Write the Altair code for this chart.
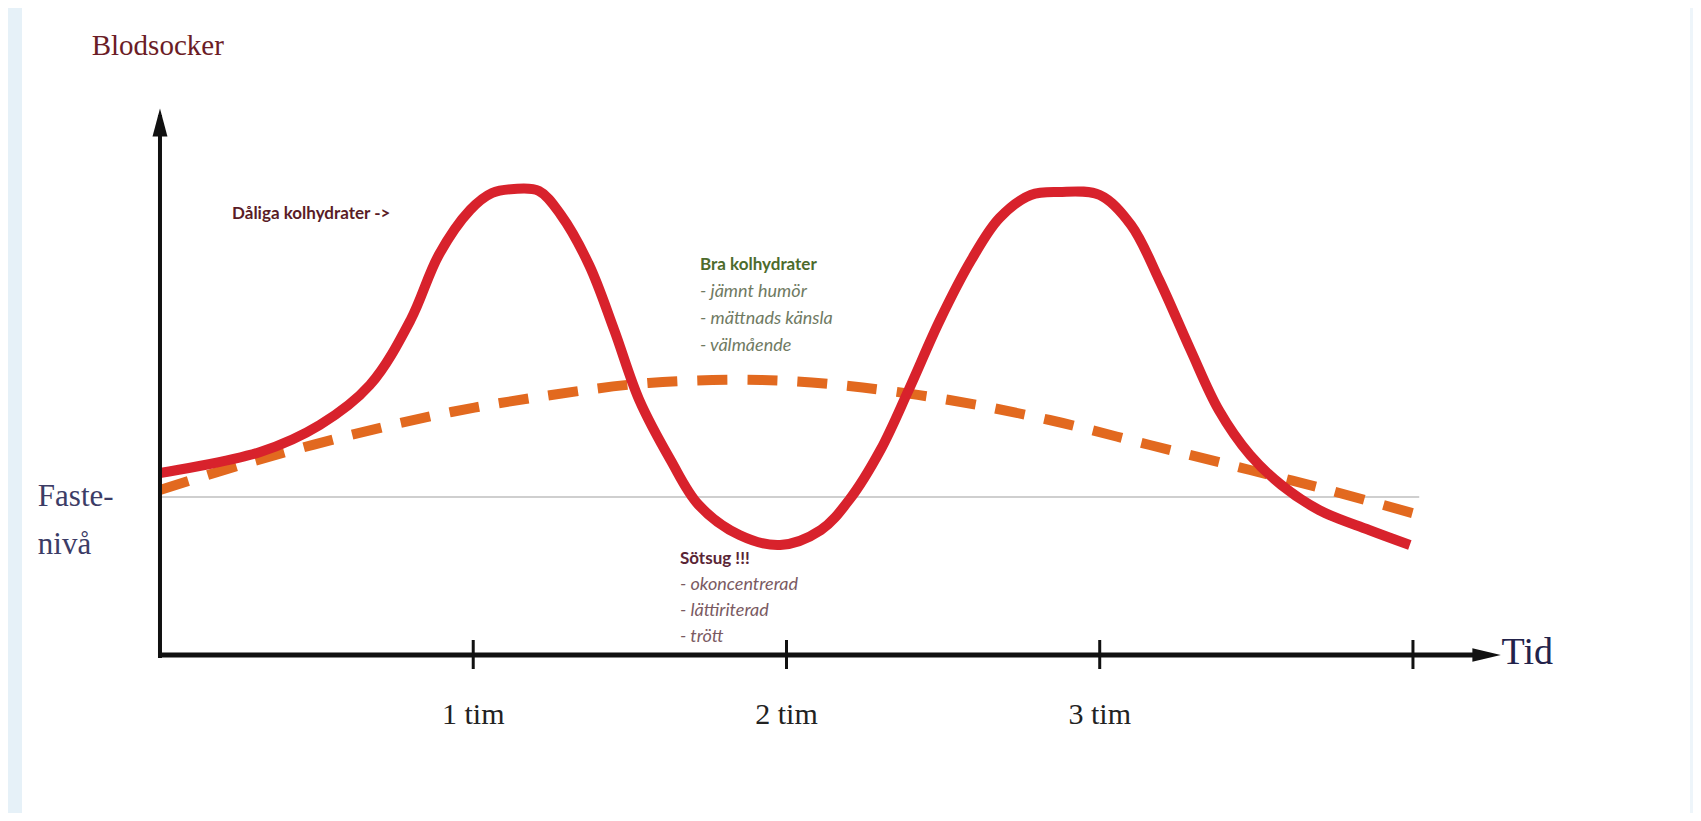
import altair as alt
import pandas as pd

# Time in hours, blood sugar in arbitrary units (fasting level = 158)
red_t = [0.0, 0.32, 0.51, 0.67, 0.80, 0.89, 0.99, 1.06, 1.13, 1.21, 1.28, 1.37, 1.45,
         1.53, 1.63, 1.72, 1.85, 1.98, 2.11, 2.20, 2.30, 2.39, 2.49, 2.59, 2.68,
         2.78, 2.87, 3.00, 3.10, 3.19, 3.29, 3.38, 3.48, 3.58, 3.70, 3.86, 3.99]
red_v = [182, 203, 230, 270, 335, 400, 445, 462, 466, 464, 440, 390, 325,
         255, 195, 150, 120, 110, 125, 155, 205, 265, 335, 395, 437,
         460, 463, 460, 430, 375, 305, 245, 200, 170, 145, 125, 110]

ora_t = [0.0, 0.29, 0.61, 0.93, 1.25, 1.56, 1.92, 2.20, 2.52, 2.84, 3.16, 3.48, 3.73, 4.02]
ora_v = [165, 193, 220, 243, 260, 272, 275, 269, 255, 235, 210, 185, 165, 140]

fasting_level = 158
tick_hours = [1, 2, 3, 4]
tick_labels = ["1 tim", "2 tim", "3 tim"]

X = alt.Scale(domain=[-0.4852, 4.894], nice=False, zero=False)
Y = alt.Scale(domain=[-158, 647], nice=False, zero=False)

def xe(f="t"):
    return alt.X(f"{f}:Q", scale=X, axis=None)
def ye(f="v"):
    return alt.Y(f"{f}:Q", scale=Y, axis=None)

red_df = pd.DataFrame({"t": red_t, "v": red_v})
ora_df = pd.DataFrame({"t": ora_t, "v": ora_v})

# side strips (page decoration)
strip = alt.Chart(pd.DataFrame({"a": [0]})).mark_rect(color="#e6f1f8").encode(
    x=alt.value(-8), x2=alt.value(14), y=alt.value(-8), y2=alt.value(813))
strip_r = alt.Chart(pd.DataFrame({"a": [0]})).mark_rect(color="#eef5fa").encode(
    x=alt.value(1682), x2=alt.value(1693), y=alt.value(-8), y2=alt.value(813))

fast = alt.Chart(pd.DataFrame({"t": [0.0], "t2": [4.02], "v": [fasting_level]})).mark_rule(
    color="#cfcfcf", strokeWidth=2).encode(x=xe(), x2="t2:Q", y=ye())

orange = alt.Chart(ora_df).mark_line(color="#e2691f", strokeWidth=10,
                                      strokeDash=[30, 20], interpolate="catmull-rom").encode(
    x=xe(), y=ye())
red = alt.Chart(red_df).mark_line(color="#d8222c", strokeWidth=10,
                                  interpolate="catmull-rom").encode(x=xe(), y=ye())

# axes
yaxis = alt.Chart(pd.DataFrame({"t": [0.0], "v": [-3], "v2": [540]})).mark_rule(
    color="#111111", strokeWidth=4).encode(x=xe(), y=ye(), y2="v2:Q")
xaxis = alt.Chart(pd.DataFrame({"t": [0.0], "t2": [4.2], "v": [0]})).mark_rule(
    color="#111111", strokeWidth=5).encode(x=xe(), x2="t2:Q", y=ye())
ticks = alt.Chart(pd.DataFrame({"t": tick_hours, "v": [-14] * 4, "v2": [15] * 4})).mark_rule(
    color="#111111", strokeWidth=3).encode(x=xe(), y=ye(), y2="v2:Q")
yarrow = alt.Chart(pd.DataFrame({"t": [0.0], "v": [530]})).mark_point(
    shape="M-0.45,0.7L0,-1L0.45,0.7Z", size=1100, filled=True, color="#111111", opacity=1).encode(
    x=xe(), y=ye())
xarrow = alt.Chart(pd.DataFrame({"t": [4.23], "v": [0]})).mark_point(
    shape="M-0.8,-0.42L1,0L-0.8,0.42Z", size=1000, filled=True, color="#111111", opacity=1).encode(
    x=xe(), y=ye())

tlab = alt.Chart(pd.DataFrame({"t": tick_hours[:3], "v": [-60] * 3, "s": tick_labels})).mark_text(
    font="Liberation Serif", fontSize=30, color="#222222", baseline="middle").encode(
    x=xe(), y=ye(), text="s:N")

tid = alt.Chart(pd.DataFrame({"t": [4.2], "v": [2], "s": ["Tid"]})).mark_text(
    font="Liberation Serif", fontSize=38, color="#22224a", align="left", baseline="middle", dx=26).encode(
    x=xe(), y=ye(), text="s:N")
blod = alt.Chart(pd.DataFrame({"t": [-0.218], "v": [609], "s": ["Blodsocker"]})).mark_text(
    font="Liberation Serif", fontSize=29, color="#6b1c26", align="left", baseline="middle").encode(
    x=xe(), y=ye(), text="s:N")
faste = alt.Chart(pd.DataFrame({"t": [-0.39, -0.39], "v": [158, 110], "s": ["Faste-", "nivå"]})).mark_text(
    font="Liberation Serif", fontSize=31, color="#3c3c66", align="left", baseline="middle").encode(
    x=xe(), y=ye(), text="s:N")

def block(t, v0, head, lines, hcol, lcol, step=27):
    d1 = pd.DataFrame({"t": [t], "v": [v0], "s": [head]})
    d2 = pd.DataFrame({"t": [t] * len(lines), "v": [v0 - step * (i + 1) for i in range(len(lines))], "s": lines})
    c1 = alt.Chart(d1).mark_text(font="Lato", fontWeight="bold", fontSize=17, color=hcol,
                                 align="left", baseline="middle").encode(x=xe(), y=ye(), text="s:N")
    c2 = alt.Chart(d2).mark_text(font="Lato", fontStyle="italic", fontSize=18, color=lcol,
                                 align="left", baseline="middle").encode(x=xe(), y=ye(), text="s:N")
    return c1 + c2

dal = alt.Chart(pd.DataFrame({"t": [0.23], "v": [441], "s": ["Dåliga kolhydrater ->"]})).mark_text(
    font="Lato", fontWeight="bold", fontSize=17, color="#5a1c26", align="left", baseline="middle").encode(
    x=xe(), y=ye(), text="s:N")
bra = block(1.724, 390, "Bra kolhydrater", ["- jämnt humör", "- mättnads känsla", "- välmående"],
            "#4d6b2c", "#6f7a62")
sot = block(1.66, 96, "Sötsug !!!", ["- okoncentrerad", "- lättiriterad", "- trött"],
            "#5a2535", "#7a5a62", step=26)

chart = alt.layer(strip, strip_r, fast, orange, red, yaxis, xaxis, ticks, yarrow, xarrow,
                  tlab, tid, blod, faste, dal, bra, sot).properties(
    width=1685, height=805, padding=0, autosize=alt.AutoSizeParams(type="none"),
    background="white").configure_view(stroke=None)

chart.save("out.html", embed_options={"renderer": "svg", "actions": False})
